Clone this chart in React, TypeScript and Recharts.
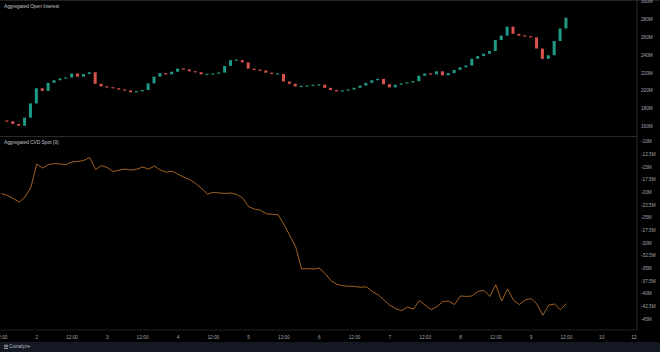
import React from 'react';
import { ComposedChart, Bar, LineChart, Line, XAxis, YAxis } from 'recharts';

// open interest, 2h candles starting day 1 14:00 (values in millions)
const oiClose = [
  166, 163, 161, 170, 186, 203, 200, 209, 212, 214,
  215, 219.5, 216, 219, 221, 208, 205, 204, 203, 201.5,
  200.5, 198.5, 199.5, 201, 208.5, 216, 220, 218.5, 221.5, 225,
  224, 222, 221, 218.5, 218.5, 219.5, 220.5, 228, 234.5, 234.5,
  232, 225, 223.5, 223, 220.5, 219, 219, 210.5, 208, 205,
  205, 206, 206.5, 207, 203.5, 201, 199.5, 200.5, 201.5, 203.5,
  206, 209, 212, 213.5, 207.5, 204, 207, 208.5, 209.5, 211,
  217, 219.5, 218.5, 222, 217.5, 220, 223.5, 226.5, 228.5, 236,
  239, 241.7, 244.7, 257, 262, 272, 264, 262, 261.3, 260,
  247.5, 236, 240, 256, 270, 282,
];
const oiFirstOpen = 166.5;

// aggregated spot CVD, every 2h starting day 1 12:00 (millions)
const cvdValues = [
  -20.2, -20.6, -21.2, -21.9, -20.9, -19.0, -14.4, -15.2, -14.5, -14.3,
  -14.4, -14.5, -14.0, -13.9, -13.7, -13.1, -15.5, -14.7, -15.1, -15.9,
  -15.6, -15.4, -15.6, -15.4, -15.0, -15.4, -14.8, -15.6, -16.0, -15.8,
  -16.4, -17.0, -17.5, -18.2, -19.2, -20.3, -20.0, -20.1, -20.2, -20.1,
  -20.4, -21.1, -22.8, -23.3, -23.5, -24.2, -24.3, -24.4, -26.3, -28.5,
  -30.7, -35.1, -35.0, -35.1, -34.9, -36.0, -37.4, -38.1, -38.4, -38.5,
  -38.5, -38.7, -38.6, -39.5, -40.2, -41.2, -42.2, -42.9, -43.3, -42.6,
  -43.0, -41.3, -42.2, -43.1, -42.5, -41.5, -41.4, -42.1, -40.4, -40.5,
  -40.4, -39.5, -39.3, -40.5, -38.2, -41.4, -39.0, -41.2, -42.1, -41.2,
  -40.9, -42.0, -44.2, -42.2, -42.0, -43.1, -41.9,
];

const oiTicks = [160, 180, 200, 220, 240, 260, 280, 300];
const cvdTicks = [-45, -42.5, -40, -37.5, -35, -32.5, -30, -27.5, -25, -22.5, -20, -17.5, -15, -12.5, -10];
const timeTicks = [12, 24, 36, 48, 60, 72, 84, 96, 108, 120, 132, 144, 156, 168, 180, 192, 204, 216, 228];

const oiData = oiClose.map((c, i) => {
  const o = i === 0 ? oiFirstOpen : oiClose[i - 1];
  return { h: 14 + i * 2, open: o, close: c, body: [Math.min(o, c), Math.max(o, c)] };
});
const cvdData = cvdValues.map((v, i) => ({ h: 12 + i * 2, cvd: v }));

const GREEN = '#1f9a87';
const RED = '#d9534e';
const FONT = '"Liberation Sans", Arial, sans-serif';
const X_DOMAIN: [number, number] = [11.5, 228];

const Candle = (props: any) => {
  const { x, y, width, height, payload } = props;
  if (x == null || y == null) return null;
  const up = payload.close >= payload.open;
  let top = height < 0 ? y + height : y;
  let h = Math.abs(height);
  if (h < 1.2) {
    top = top + h / 2 - 0.6;
    h = 1.2;
  }
  return <rect x={x} y={top} width={width} height={h} fill={up ? GREEN : RED} />;
};

const fmtM = (v: number) => `${v}M`;

const YTick = (props: any) => (
  <text x={641} y={props.y} fill="#a4a7ae" fontSize={4.7} fontFamily={FONT} dominantBaseline="central">
    {fmtM(props.payload.value)}
  </text>
);

const dayLabel = (h: number) => (h % 24 === 0 ? String(h / 24 + 1) : '12:00');

// plot area of the lower chart ends at y = 194 inside its own svg
const XTick = (props: any) => (
  <svg x={0} y={194} width={637} height={12} overflow="hidden">
    <text x={props.x} y={7} fill="#a4a7ae" fontSize={4.7} fontFamily={FONT} textAnchor="middle" dominantBaseline="central">
      {dayLabel(props.payload.value)}
    </text>
  </svg>
);

export default function App() {
  return (
    <div style={{ position: 'fixed', left: 0, top: 0, width: 660, height: 352, background: '#000', overflow: 'hidden' }}>
      <div style={{ position: 'absolute', left: 0, top: 0, width: 660, height: 1, background: '#222' }} />
      <div style={{ position: 'absolute', left: 0, top: 0 }}>
        <ComposedChart width={660} height={136} data={oiData} margin={{ top: 0, right: 0, left: 0, bottom: 0 }}>
          <XAxis dataKey="h" type="number" domain={X_DOMAIN} allowDataOverflow hide />
          <YAxis
            orientation="right"
            width={23}
            domain={[149.5, 301.9]}
            ticks={oiTicks}
            interval={0}
            allowDataOverflow
            axisLine={{ stroke: '#2a2a2a' }}
            tickLine={false}
            tick={(p: any) => <YTick {...p} />}
          />
          <Bar dataKey="body" barSize={3} shape={(p: any) => <Candle {...p} />} isAnimationActive={false} />
        </ComposedChart>
      </div>
      <div style={{ position: 'absolute', left: 0, top: 136, width: 637, height: 1, background: '#2a2a2a' }} />
      <div style={{ position: 'absolute', left: 0, top: 136 }}>
        <LineChart width={660} height={206} data={cvdData} margin={{ top: 0, right: 0, left: 0, bottom: 0 }}>
          <XAxis
            dataKey="h"
            type="number"
            domain={X_DOMAIN}
            ticks={timeTicks}
            interval={0}
            allowDataOverflow
            height={12}
            axisLine={{ stroke: '#202020' }}
            tickLine={false}
            tick={(p: any) => <XTick {...p} />}
          />
          <YAxis
            orientation="right"
            width={23}
            domain={[-47.11, -8.877]}
            ticks={cvdTicks}
            interval={0}
            allowDataOverflow
            axisLine={{ stroke: '#2a2a2a' }}
            tickLine={false}
            tick={(p: any) => <YTick {...p} />}
          />
          <Line type="linear" dataKey="cvd" stroke="#bd7327" strokeWidth={0.85} dot={false} isAnimationActive={false} />
        </LineChart>
      </div>
      <svg style={{ position: 'absolute', left: 0, top: 0 }} width={660} height={352}>
        <text x={4} y={6} fill="#c4c6cc" fontSize={4.8} fontFamily={FONT} dominantBaseline="central">
          Aggregated Open Interest
        </text>
        <text x={4} y={142.5} fill="#c4c6cc" fontSize={4.8} fontFamily={FONT} dominantBaseline="central">
          Aggregated CVD Spot (0)
        </text>
      </svg>
      <div style={{ position: 'absolute', left: 0, top: 342, width: 660, height: 10, background: '#141822' }}>
        <svg width={60} height={10} style={{ display: 'block' }}>
          <rect x={4} y={2.8} width={4} height={0.8} fill="#b6b9c0" />
          <rect x={4} y={4.4} width={4} height={0.8} fill="#b6b9c0" />
          <rect x={4} y={6} width={4} height={0.8} fill="#b6b9c0" />
          <text x={9} y={4.8} fill="#b6b9c0" fontSize={4.8} fontFamily={FONT} dominantBaseline="central">
            Coinalyze
          </text>
        </svg>
      </div>
    </div>
  );
}
